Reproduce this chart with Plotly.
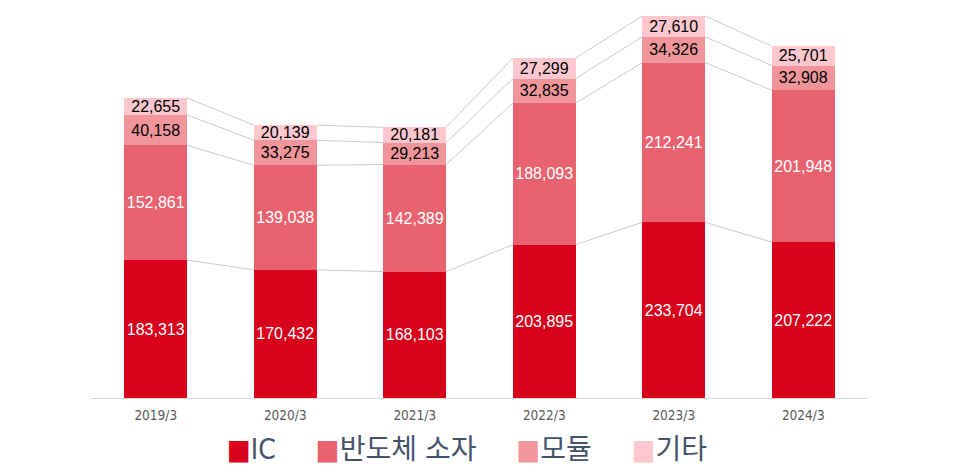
import plotly.graph_objects as go

categories = ["2019/3", "2020/3", "2021/3", "2022/3", "2023/3", "2024/3"]
series_names = ["IC", "반도체 소자", "모듈", "기타"]
ic = [183313, 170432, 168103, 203895, 233704, 207222]
devices = [152861, 139038, 142389, 188093, 212241, 201948]
modules = [40158, 33275, 29213, 32835, 34326, 32908]
others = [22655, 20139, 20181, 27299, 27610, 25701]

colors = ["#D9001B", "#E8636F", "#F0969B", "#FFC7CE"]
label_colors = ["#FFFFFF", "#FFFFFF", "#000000", "#000000"]
BAR_W = 0.485

series = [ic, devices, modules, others]
xs = list(range(len(categories)))

fig = go.Figure()

# series lines connecting cumulative tops
cum = [0] * len(categories)
for s in series:
    cum = [c + v for c, v in zip(cum, s)]
    lx, ly = [], []
    for i in range(len(categories) - 1):
        lx += [xs[i] + BAR_W / 2, xs[i + 1] - BAR_W / 2, None]
        ly += [cum[i], cum[i + 1], None]
    fig.add_trace(go.Scatter(x=lx, y=ly, mode="lines", showlegend=False,
                             line=dict(color="#BDBDBD", width=0.8),
                             hoverinfo="skip"))

for name, s, col, lc in zip(series_names, series, colors, label_colors):
    fig.add_trace(go.Bar(
        x=xs, y=s, name=name, width=BAR_W,
        marker=dict(color=col, line=dict(width=0)),
        texttemplate="%{y:,}", textposition="inside", textangle=0,
        insidetextanchor="middle", constraintext="none",
        textfont=dict(family="Liberation Sans, Arial", size=16, color=lc),
        showlegend=False,
    ))

legend_parts = []
for name, col in zip(series_names, colors):
    legend_parts.append(
        f"<span style='color:{col}'>■</span>{name}")
legend_text = "&nbsp;&nbsp;&nbsp;&nbsp;&nbsp;".join(legend_parts)

fig.add_annotation(
    text=legend_text, xref="paper", yref="paper", x=0.484, y=-0.133,
    xanchor="center", yanchor="middle", showarrow=False,
    font=dict(family="DejaVu Sans Condensed, Noto Sans CJK KR", size=28,
              color="#44546A"),
)

fig.update_layout(
    width=960, height=475,
    margin=dict(l=91, r=92, t=8, b=77),
    barmode="stack",
    plot_bgcolor="white", paper_bgcolor="white",
    showlegend=False,
    xaxis=dict(range=[-0.5, 5.5], tickmode="array", tickvals=xs,
               ticktext=categories, showgrid=False, zeroline=False,
               showline=True, linecolor="#D9D9D9", linewidth=1,
               ticks="", ticklabelstandoff=5,
               tickfont=dict(family="DejaVu Sans Condensed, Liberation Sans",
                             size=13.5, color="#595959")),
    yaxis=dict(range=[0, 518600], visible=False, showgrid=False),
)

fig.write_html("out.html", config={"displayModeBar": False},
               post_script="document.body.style.margin='0';")
